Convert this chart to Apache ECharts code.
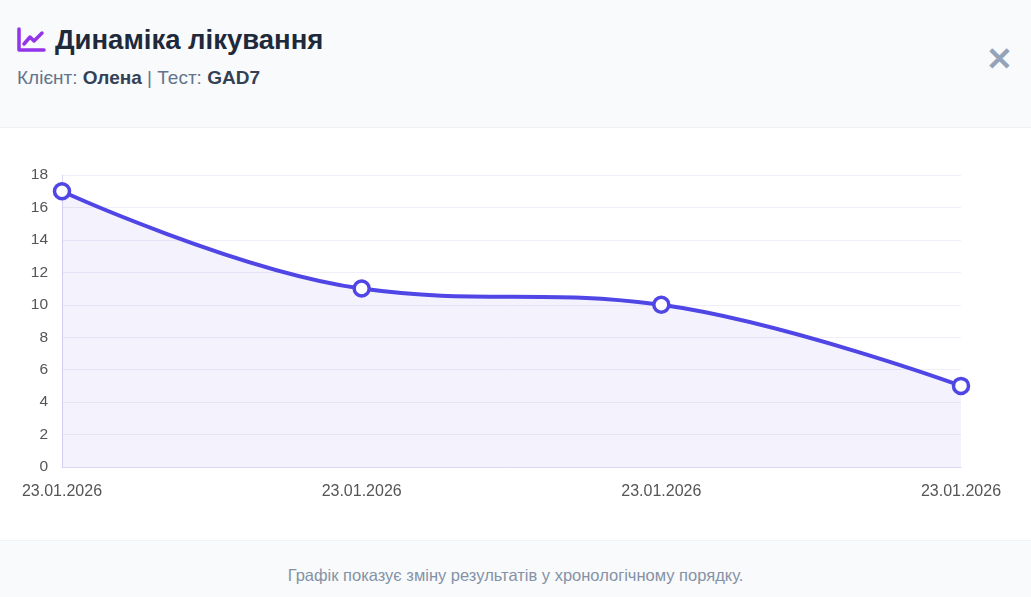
<!DOCTYPE html>
<html><head><meta charset="utf-8">
<script src="https://cdn.jsdelivr.net/npm/echarts@6/dist/echarts.min.js"></script>
<style>
body{margin:0;width:1031px;height:597px;font-family:"Liberation Sans",Arial,sans-serif;background:#fff;overflow:hidden;position:relative}
#hdr{position:absolute;left:0;top:0;width:1031px;height:127px;background:#f8fafc;border-bottom:1px solid #eef1f5}
#title{position:absolute;left:16px;top:24px;font-size:27.5px;font-weight:bold;color:#1e293b;display:flex;align-items:center}
#sub{position:absolute;left:17px;top:67px;font-size:19px;color:#64748b}
#sub b{color:#334155}
#close{position:absolute;left:986px;top:40px;font-size:32px;color:#94a3b8;font-weight:bold}
#chart{position:absolute;left:0;top:128px;width:1031px;height:412px}
#ftr{position:absolute;left:0;top:540px;width:1031px;height:57px;background:#f8fafc;border-top:1px solid #eef1f5;text-align:center;line-height:68px;font-size:16.5px;color:#8592a6}
</style></head><body>
<div id="hdr">
<div id="title"><svg width="30" height="28" viewBox="0 0 30 28" style="margin-right:9px"><path d="M3 3 V24 H28" fill="none" stroke="#9333ea" stroke-width="3.5" stroke-linecap="round" stroke-linejoin="round"/><path d="M8 18 L14 11 L18 15 L26 7" fill="none" stroke="#9333ea" stroke-width="3.5" stroke-linecap="round" stroke-linejoin="round"/></svg>Динаміка лікування</div>
<div id="sub">Клієнт: <b>Олена</b> | Тест: <b>GAD7</b></div>
<div id="close">✕</div>
</div>
<div id="chart"></div>
<div id="ftr">Графік показує зміну результатів у хронологічному порядку.</div>
<script>
const categories=["23.01.2026","23.01.2026","23.01.2026","23.01.2026"];
const scores=[17,11,10,5];
const c=echarts.init(document.getElementById('chart'));
c.setOption({
 animation:false,
 grid:{left:62,right:70,top:47,bottom:73},
 xAxis:{type:'category',boundaryGap:false,data:categories,
  axisLine:{lineStyle:{color:'#ddd6f3'}},axisTick:{show:false},
  axisLabel:{color:'#555',fontSize:16,margin:17,interval:0,showMinLabel:true,showMaxLabel:true}},
 yAxis:{type:'value',min:0,max:18,interval:2,
  axisLine:{show:true,lineStyle:{color:'#ddd6f3'}},
  splitLine:{lineStyle:{color:'#f0eef8'}},
  axisLabel:{color:'#555',fontSize:15.5,margin:14}},
 series:[{type:'line',data:scores,smooth:0.4,symbol:'circle',symbolSize:15,
  itemStyle:{color:'#fff',borderColor:'#4f46e5',borderWidth:3.5},
  lineStyle:{color:'#4f46e5',width:4},
  areaStyle:{color:'rgba(79,70,229,0.1)'}}]
});
</script>
</body></html>
